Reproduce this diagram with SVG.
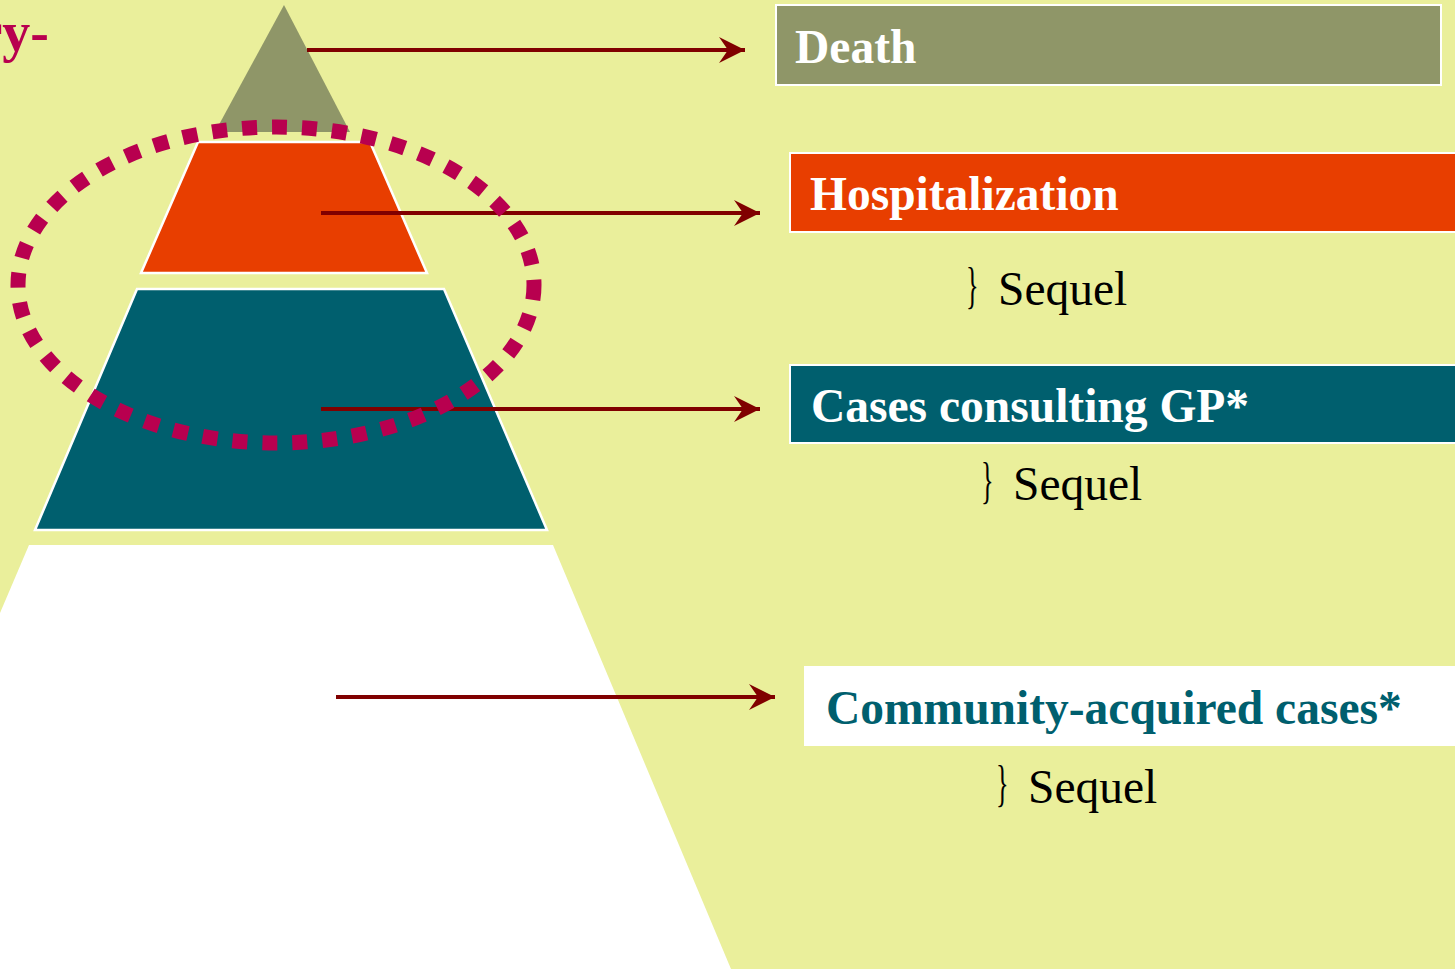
<svg xmlns="http://www.w3.org/2000/svg" width="1455" height="969" viewBox="0 0 1455 969">
<style>
.lbl{font-family:"Liberation Serif","Times New Roman",serif;font-weight:bold;font-size:47.5px}
.seq{font-family:"Liberation Serif","Times New Roman",serif;font-size:47.5px;fill:#000}
.arr{stroke:#800000;stroke-width:4;fill:none;marker-end:url(#ah)}
.tier{stroke:#fff;stroke-width:2.5}
</style>
<defs>
<marker id="ah" markerUnits="userSpaceOnUse" markerWidth="28" markerHeight="28" refX="26" refY="13" orient="auto">
<path d="M0,0 L26,13 L0,26 L9,13 Z" fill="#800000"/>
</marker>
</defs>
<rect x="0" y="0" width="1455" height="969" fill="#EAEF9B"/>
<text x="49" y="51" font-family="Liberation Serif, Times New Roman, serif" font-weight="bold" font-size="56" fill="#B8004F" text-anchor="end">ry-</text>
<g id="pyramid">
<g id="tier-death"><polygon points="284,5 350,132 215,132" fill="#8F9668"/></g>
<g id="tier-hosp"><polygon class="tier" points="198,142 370,142 427,273 141,273" fill="#E83E00"/></g>
<g id="tier-gp"><polygon class="tier" points="137,289 444,289 547,530 35,530" fill="#005F6E"/></g>
<g id="tier-community"><polygon points="29,545 553,545 731,969 0,969 0,613" fill="#FFFFFF"/></g>
</g>
<g id="connectors">
<line class="arr" x1="307" y1="50" x2="745" y2="50"/>
<line class="arr" x1="321" y1="213" x2="760" y2="213"/>
<line class="arr" x1="321" y1="409" x2="760" y2="409"/>
<line class="arr" x1="336" y1="697" x2="775" y2="697"/>
</g>
<g id="highlight">
<ellipse cx="276" cy="285" rx="258" ry="158" fill="none" stroke="#B8004F" stroke-width="15" stroke-dasharray="15 15"/>
</g>
<g id="box-death">
<rect x="776" y="5" width="665" height="80" fill="#8F9668" stroke="#fff" stroke-width="2"/>
<text x="795" y="63" class="lbl" fill="#fff">Death</text>
</g>
<g id="box-hosp">
<rect x="790" y="153" width="668" height="79" fill="#E83E00" stroke="#fff" stroke-width="2"/>
<text x="810" y="210" class="lbl" fill="#fff">Hospitalization</text>
</g>
<g id="sequel-1">
<text x="0" y="0" class="seq" transform="translate(966,302) scale(0.55,1.05)">}</text>
<text x="998" y="305" class="seq">Sequel</text>
</g>
<g id="box-gp">
<rect x="790" y="365" width="668" height="78" fill="#005F6E" stroke="#fff" stroke-width="2"/>
<text x="811" y="422" class="lbl" fill="#fff">Cases consulting GP*</text>
</g>
<g id="sequel-2">
<text x="0" y="0" class="seq" transform="translate(981,497) scale(0.55,1.05)">}</text>
<text x="1013" y="500" class="seq">Sequel</text>
</g>
<g id="box-community">
<rect x="804" y="666" width="654" height="80" fill="#FFFFFF"/>
<text x="826" y="724" class="lbl" fill="#005F6E">Community-acquired cases*</text>
</g>
<g id="sequel-3">
<text x="0" y="0" class="seq" transform="translate(996,800) scale(0.55,1.05)">}</text>
<text x="1028" y="803" class="seq">Sequel</text>
</g>
</svg>
